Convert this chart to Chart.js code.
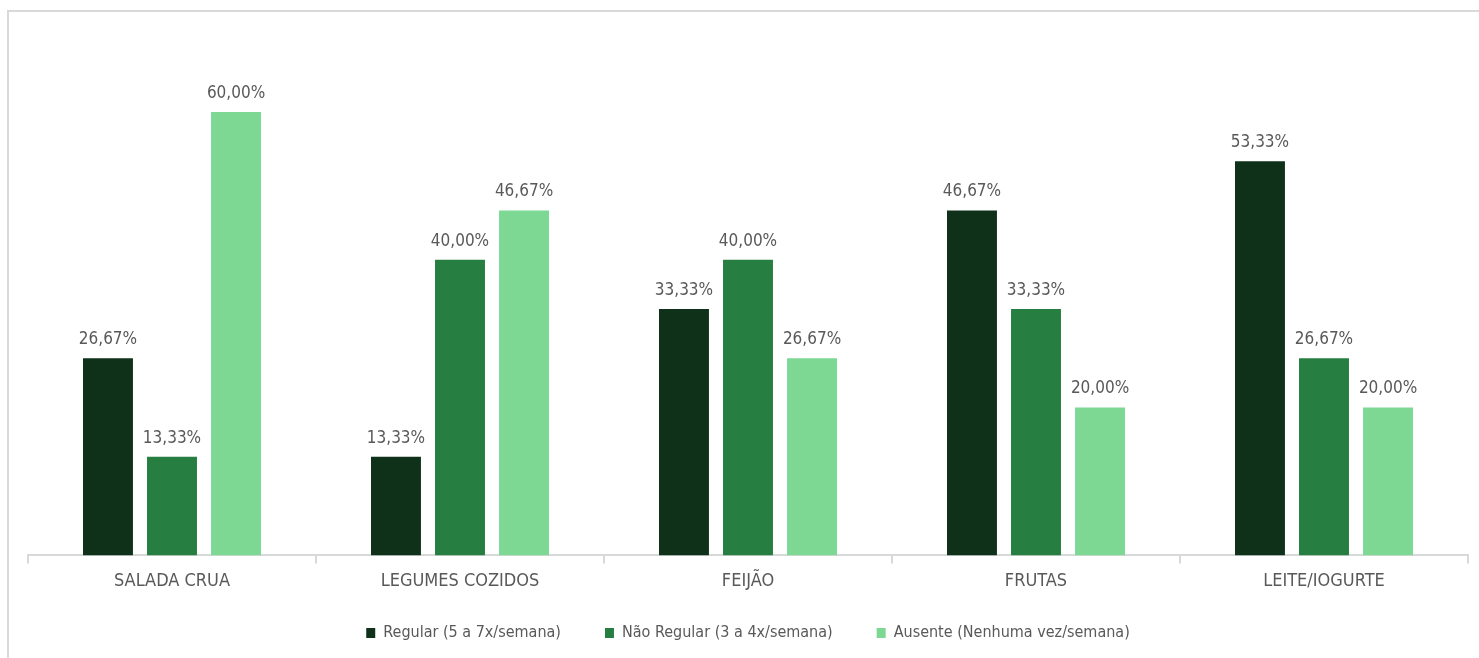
<!DOCTYPE html>
<html>
<head>
<meta charset="utf-8">
<script src="https://cdn.jsdelivr.net/npm/chart.js@4.4.0/dist/chart.umd.min.js"></script>
<style>
  body { margin: 0; background: #fff; overflow: hidden; }
  #frame { position: absolute; left: 7px; top: 10px; width: 1520px; height: 720px; border: 2px solid #d9d9d9; }
  #myChart { position: absolute; left: 0; top: 0; }
</style>
</head>
<body>
<div id="frame"></div>
<canvas id="myChart" width="1479" height="658"></canvas>
<script>
// categorias e séries (percentuais)
var categorias = ['SALADA CRUA', 'LEGUMES COZIDOS', 'FEIJÃO', 'FRUTAS', 'LEITE/IOGURTE'];
var regular = [26.67, 13.33, 33.33, 46.67, 53.33];
var naoRegular = [13.33, 40.00, 40.00, 33.33, 26.67];
var ausente = [60.00, 46.67, 26.67, 20.00, 20.00];
var nomesSeries = ['Regular (5 a 7x/semana)', 'Não Regular (3 a 4x/semana)', 'Ausente (Nenhuma vez/semana)'];

var fonte = "'Liberation Sans Narrow', 'Arial Narrow', 'DejaVu Sans Condensed', sans-serif";
var corTexto = '#595959';

// rótulos de valor acima das barras
var rotulos = {
  id: 'rotulos',
  afterDatasetsDraw: function (chart) {
    var ctx = chart.ctx;
    ctx.save();
    ctx.font = '17px ' + fonte;
    ctx.fillStyle = corTexto;
    ctx.textAlign = 'center';
    ctx.textBaseline = 'bottom';
    chart.data.datasets.forEach(function (ds, i) {
      chart.getDatasetMeta(i).data.forEach(function (bar, j) {
        var txt = ds.data[j].toFixed(2).replace('.', ',') + '%';
        ctx.fillText(txt, bar.x, bar.y - 10);
      });
    });
    ctx.restore();
  }
};

// sobe a legenda um pouco (o padding horizontal grande empurra ela para baixo)
var subirLegenda = {
  id: 'subirLegenda',
  afterLayout: function (chart) {
    chart.legend.top -= 18;
    chart.legend.bottom -= 18;
  }
};

var ctx = document.getElementById('myChart');
var myChart = new Chart(ctx, {
  type: 'bar',
  data: {
    labels: categorias,
    datasets: [
      { label: nomesSeries[0], data: regular, backgroundColor: '#0f3019' },
      { label: nomesSeries[1], data: naoRegular, backgroundColor: '#277e41' },
      { label: nomesSeries[2], data: ausente, backgroundColor: '#7dd894' }
    ]
  },
  options: {
    responsive: false,
    animation: false,
    layout: { padding: { left: 28, right: 11, top: 38, bottom: -11 } },
    datasets: { bar: { categoryPercentage: 0.667, barPercentage: 0.78 } },
    plugins: {
      tooltip: { enabled: false },
      legend: {
        position: 'bottom',
        labels: {
          color: corTexto,
          font: { family: fonte, size: 16 },
          boxWidth: 9,
          boxHeight: 10,
          padding: 44
        }
      }
    },
    scales: {
      x: {
        grid: { drawOnChartArea: false, color: '#d9d9d9', lineWidth: 2, tickLength: 8 },
        border: { color: '#d9d9d9', width: 2 },
        ticks: { color: corTexto, font: { family: fonte, size: 18 }, padding: 7 }
      },
      y: { display: false, min: 0, max: 70 }
    }
  },
  plugins: [rotulos, subirLegenda]
});
</script>
</body>
</html>
